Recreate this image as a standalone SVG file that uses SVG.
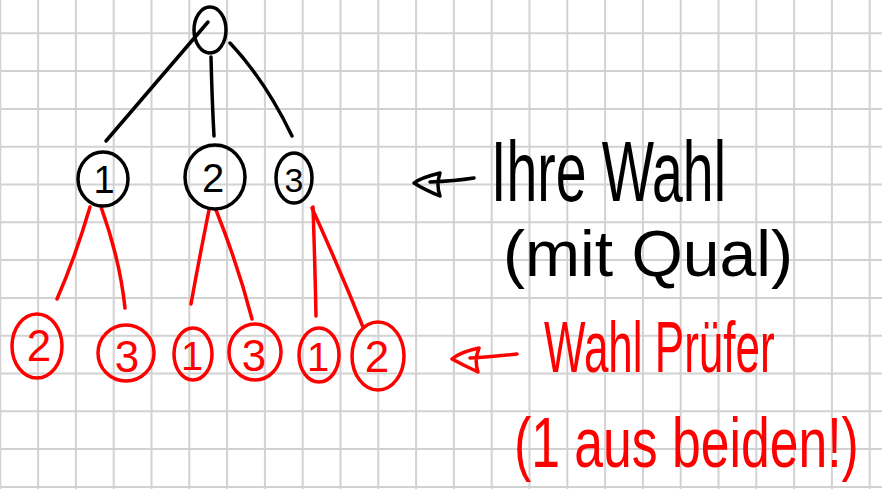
<svg xmlns="http://www.w3.org/2000/svg" width="882" height="489" viewBox="0 0 882 489">
  <style>
    .grid { stroke: #d2d2d2; stroke-width: 2; fill: none; }
    .blk { stroke: #000; stroke-width: 3.5; fill: none; stroke-linecap: round; stroke-linejoin: round; }
    .red { stroke: #ff0000; stroke-width: 3.5; fill: none; stroke-linecap: round; stroke-linejoin: round; }
    .dk { font-family: "Liberation Sans", "DejaVu Sans", sans-serif; fill: #000; text-anchor: middle; dominant-baseline: central; }
    .dr { font-family: "Liberation Sans", "DejaVu Sans", sans-serif; fill: #ff0000; text-anchor: middle; dominant-baseline: central; }
    .hk { font-family: "Liberation Sans", "DejaVu Sans", sans-serif; fill: #000; }
    .hr { font-family: "Liberation Sans", "DejaVu Sans", sans-serif; fill: #ff0000; }
  </style>
  <rect width="882" height="489" fill="#fff"/>
  <path class="grid" d="M0.3 0V489M38.1 0V489M75.9 0V489M113.7 0V489M151.5 0V489M189.3 0V489M227.1 0V489M264.9 0V489M302.7 0V489M340.5 0V489M378.3 0V489M416.1 0V489M453.9 0V489M491.7 0V489M529.5 0V489M567.3 0V489M605.1 0V489M642.9 0V489M680.7 0V489M718.5 0V489M756.3 0V489M794.1 0V489M831.9 0V489M869.7 0V489M0 33.3H882M0 71.1H882M0 108.9H882M0 146.7H882M0 184.5H882M0 222.3H882M0 260.1H882M0 297.9H882M0 335.7H882M0 373.5H882M0 411.3H882M0 449.1H882M0 486.9H882"/>

  <g id="connectors">
    <path class="blk" d="M106 141 Q160 78 208 22"/>
    <path class="blk" d="M211 57 Q212 100 214 136"/>
    <path class="blk" d="M230 43 Q265 80 292 136"/>
    <path class="red" d="M90 207 Q75 258 57 299"/>
    <path class="red" d="M101 207 Q120 260 125 308"/>
    <path class="red" d="M209 210 Q198 265 191 304"/>
    <path class="red" d="M216 210 Q238 265 252 319"/>
    <path class="red" d="M313 207 Q315 265 316 316"/>
    <path class="red" d="M312 208 Q340 270 363 327"/>
  </g>

  <g id="root">
    <ellipse class="blk" cx="210" cy="30" rx="16" ry="23"/>
  </g>

  <g id="n1">
    <ellipse class="blk" cx="103" cy="179" rx="25" ry="27"/>
    <text class="dk" x="104" y="180" font-size="38">1</text>
  </g>
  <g id="n2">
    <ellipse class="blk" cx="215" cy="177" rx="30" ry="32"/>
    <text class="dk" x="213" y="178" font-size="40">2</text>
  </g>
  <g id="n3">
    <ellipse class="blk" cx="294" cy="178" rx="18" ry="25"/>
    <text class="dk" x="294" y="180" font-size="34">3</text>
  </g>

  <g id="n12">
    <ellipse class="red" cx="37" cy="346" rx="25" ry="32"/>
    <text class="dr" x="39" y="345" font-size="44">2</text>
  </g>
  <g id="n13">
    <ellipse class="red" cx="126" cy="353" rx="28" ry="28"/>
    <text class="dr" x="127" y="356" font-size="44">3</text>
  </g>
  <g id="n21">
    <ellipse class="red" cx="193" cy="354" rx="19" ry="26"/>
    <text class="dr" x="192" y="356" font-size="40">1</text>
  </g>
  <g id="n23">
    <ellipse class="red" cx="255" cy="352" rx="26" ry="28"/>
    <text class="dr" x="254" y="355" font-size="44">3</text>
  </g>
  <g id="n31">
    <ellipse class="red" cx="319" cy="355" rx="20" ry="27"/>
    <text class="dr" x="318" y="357" font-size="40">1</text>
  </g>
  <g id="n32">
    <ellipse class="red" cx="378" cy="356" rx="26" ry="34"/>
    <text class="dr" x="377" y="356" font-size="44">2</text>
  </g>

  <g id="label-wahl">
    <path class="blk" d="M474 178 Q455 181 430 182 M440 173 Q420 178 414 183 Q425 190 440 196 Q436 185 440 173 Z"/>
    <text class="hk" transform="translate(491 201) scale(1 1.55)" x="0" y="0" font-size="55.4">Ihre Wahl</text>
    <text class="hk" x="503" y="276" font-size="64" textLength="290" lengthAdjust="spacingAndGlyphs">(mit Qual)</text>
  </g>

  <g id="label-pruefer">
    <path class="red" d="M517 354 Q490 357 470 358 M479 348 Q460 352 452 359 Q465 366 478 372 Q474 360 479 348 Z"/>
    <text class="hr" transform="translate(544 372) scale(1 1.64)" x="0" y="0" font-size="44">Wahl Prüfer</text>
    <text class="hr" transform="translate(514 467) scale(1 1.35)" x="0" y="0" font-size="51.7">(1 aus beiden!)</text>
  </g>
</svg>
